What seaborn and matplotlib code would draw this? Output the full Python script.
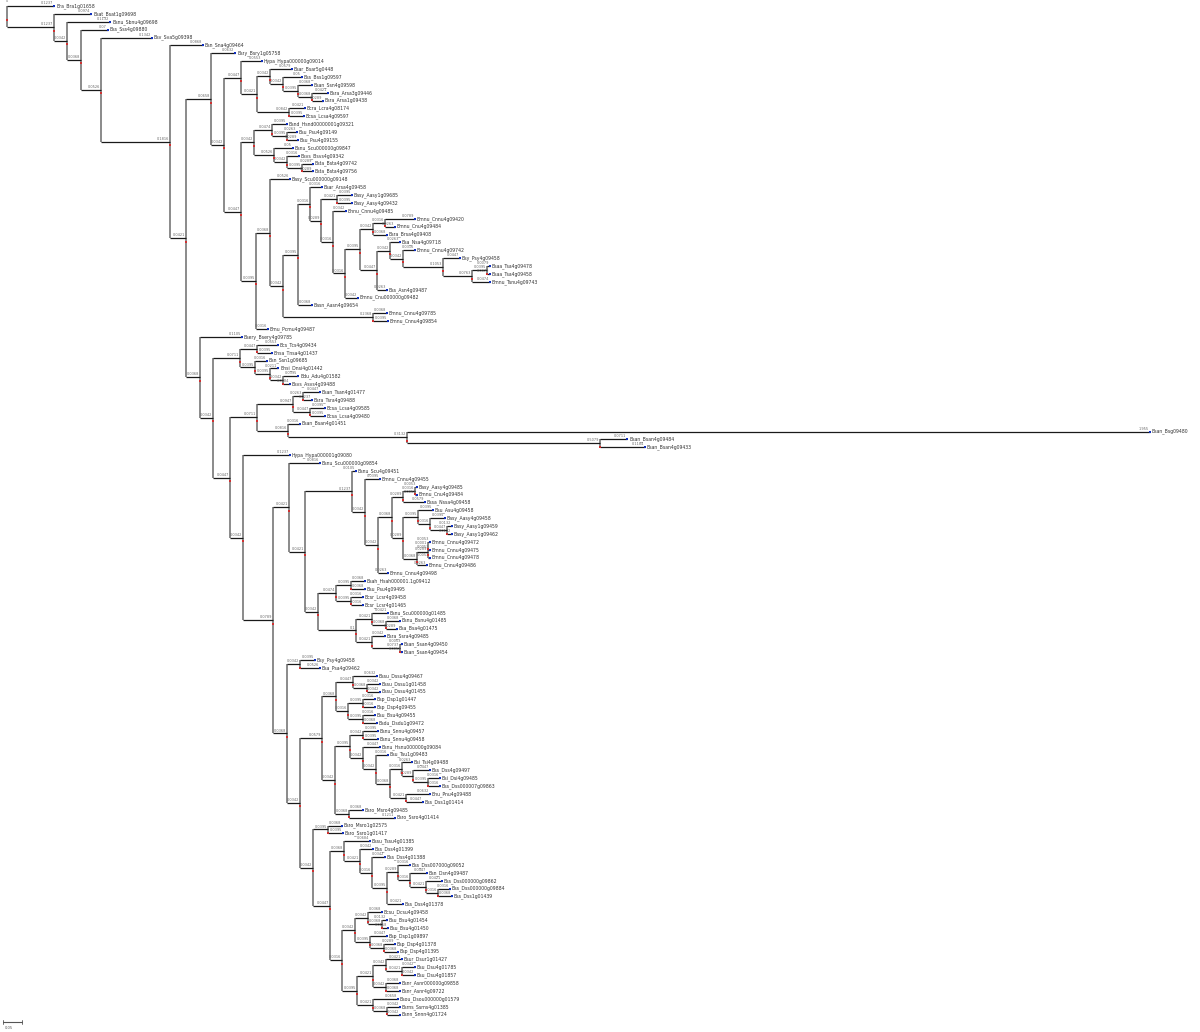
import re
import numpy as np
import pandas as pd
import matplotlib
matplotlib.use("Agg")
import matplotlib.pyplot as plt
from matplotlib.collections import LineCollection
import seaborn as sns

# === Leaf labels (top to bottom) ===
leaf_names = [
    "Bra_Bra1g01658", "Bsat_Bsat1g09698", "Bsnu_Sbnu4g09698", "Bss_Sss4g09880", "Bsv_Sva5g09398",
    "Bsn_Sna4g09464", "Bsry_Bsry1g05758", "Hypa_Hypa000000g09014", "Bsar_Bsar5g0448", "Bss_Bss1g09597",
    "Bsan_Ssn4g09598", "Bsra_Arsa3g09446", "Bsra_Arsa1g09438", "Bcra_Lcra4g08174", "Bcsa_Lcsa4g09597",
    "Bsnd_Hsnd00000001g09321", "Bsu_Psu4g09149", "Bsu_Psu4g09155", "Bsnu_Scu000000g09847", "Bsvs_Bsvs4g09342",
    "Bsta_Bsta4g09742", "Bsta_Bsta4g09756", "Basy_Scu000000g09148", "Bsar_Arsa4g09458", "Basy_Aasy1g09685",
    "Basy_Aasy4g09432", "Bnnu_Cnnu4g09485", "Bmnu_Cnnu4g09420", "Bmnu_Cnu4g09484", "Bsra_Brsa4g09408",
    "Bsa_Nsa4g09718", "Bmnu_Cnnu4g09742", "Bsy_Psy4g09458", "Bsaa_Tsa4g09478", "Bsaa_Tsa4g09458",
    "Bmnu_Tsnu4g09743", "Bss_Asn4g09487", "Bmnu_Cnu000000g09482", "Basn_Aasn4g09654", "Bmnu_Cnnu4g09785",
    "Bmnu_Cnnu4g09854", "Bmu_Pcmu4g09487", "Bsery_Bsery4g09785", "Bcs_Tcs4g09434", "Bnsa_Tnsa4g01437",
    "Bsn_Ssn1g09685", "Bnsi_Dnsi4g01442", "Bdu_Adu4g01582", "Bsvs_Asvs4g09488", "Bsan_Tsan4g01477",
    "Bsra_Tsra4g09488", "Bcsa_Lcsa4g09585", "Bcsa_Lcsa4g09480", "Bsan_Bsan4g01451", "Bsan_Bsg09480",
    "Bsan_Bsan4g09484", "Bsan_Bsan4g09433", "Hypa_Hypa000001g09080", "Bsnu_Scu000000g09854", "Bsnu_Scu4g09451",
    "Bmnu_Cnnu4g09455", "Basy_Aasy4g09485", "Bmnu_Cnu4g09484", "Bssa_Nssa4g09458", "Bsu_Asu4g09458",
    "Basy_Aasy4g09458", "Basy_Aasy1g09459", "Basy_Aasy1g09462", "Bmnu_Cnnu4g09472", "Bmnu_Cnnu4g09475",
    "Bmnu_Cnnu4g09478", "Bmnu_Cnnu4g09486", "Bmnu_Cnnu4g09498", "Bsah_Hsah000001.1g09412", "Bsu_Psu4g09495",
    "Bcsr_Lcsr4g09458", "Bcsr_Lcsr4g01465", "Bsnu_Scu000000g01485", "Bsnu_Bsnu4g01485", "Bsa_Bsa4g01475",
    "Bsra_Ssra4g09485", "Bsan_Ssan4g09450", "Bsan_Ssan4g09454", "Bsy_Psy4g09458", "Bsa_Psa4g09462",
    "Bssu_Dssu4g09467", "Bssu_Dssu1g01458", "Bssu_Dssu4g01455", "Bsp_Dsp1g01447", "Bsp_Dsp4g09455",
    "Bsu_Bsu4g09455", "Bsdu_Dsdu1g09472", "Bsnu_Snnu4g09457", "Bsnu_Snnu4g09458", "Bsnu_Hsnu000000g09084",
    "Bsu_Tsu1g09483", "Bsi_Tsi4g09488", "Bss_Dss4g09497", "Bsi_Dsi4g09485", "Bss_Dss000007g09863",
    "Bnu_Pnu4g09488", "Bss_Dss1g01414", "Bsro_Msro4g09485", "Bsro_Ssro4g01414", "Bsro_Msro1g02575",
    "Bsro_Ssro1g01417", "Bssu_Tssu4g01385", "Bss_Dss4g01399", "Bss_Dss4g01388", "Bss_Dss007000g09052",
    "Bsn_Dsn4g09487", "Bss_Dss000000g09862", "Bss_Dss000000g09884", "Bss_Dss1g01439", "Bss_Dss4g01378",
    "Bcsu_Dcsu4g09458", "Bsu_Bsu4g01454", "Bsu_Bsu4g01450", "Bsp_Dsp1g09897", "Bsp_Dsp4g01378",
    "Bsp_Dsp4g01395", "Bsur_Dsur1g01427", "Bsu_Dsu4g01785", "Bsu_Dsu4g01857", "Bsnr_Asnr000000g09858",
    "Bsnr_Asnr4g09722", "Bsou_Dsou000000g01579", "Bsrns_Ssrns4g01385", "Bsnn_Snnn4g01724",
]

# === Subtrees (Newick, leaves given as 1-based index into leaf_names) ===
clade_a = "(8:0.0553,((9:0.0579,(10:0.05,(11:0.0368,(12:0.0421,13:0.0289):0.0368):0.0395):0.0342):0.0342,(14:0.0421,15:0.0395):0.0842):0.0421)"
clade_b = "((16:0.0395,(17:0.0263,18:0.0289):0.0395):0.0474,(19:0.05,(20:0.0316,(21:0.0289,22:0.0289):0.0395):0.0342):0.0526)"
clade_c1 = "((31:0.0263,(32:0.0316,(33:0.0447,((34:0.0079,35:0.0079):0.0395,36:0.0474):0.0763):0.1053):0.0342):0.0342,37:0.0263)"
clade_c = ("(24:0.0316,((25:0.0395,26:0.0395):0.0421,(27:0.0342,((((28:0.0789,29:0.0263):0.0316,30:0.0368):0.0342,"
           + clade_c1 + ":0.0447):0.0395,38:0.0342):0.0316):0.0316):0.0289)")
clade_d = "((23:0.0526,((" + clade_c + ":0.0316,39:0.0368):0.0395,(40:0.0368,41:0.0395):0.2368):0.0342):0.0368,42:0.0316)"
clade_top = "(7:0.0632,(" + clade_a + ":0.0447,(" + clade_b + ":0.0342," + clade_d + ":0.0395):0.0447):0.0342)"

clade_e = "((44:0.0553,45:0.0395):0.0447,(46:0.0316,(47:0.0211,(48:0.0395,49:0.0184):0.0342):0.0395):0.0395)"
clade_f = "(((50:0.0447,51:0.0237):0.0263,(52:0.0395,53:0.0395):0.0447):0.0947,(54:0.0316,(55:1.955,(56:0.0711,57:0.1184):0.5079):0.3132):0.0816)"

clade_g1 = ("(((62:0.0053,63:0.0053):0.0316,64:0.0579):0.0289,((65:0.0395,(66:0.0395,(67:0.0132,68:0.0132):0.0447):0.0316):0.0395,"
            "(((69:0.0053,70:0.0053):0.0001,71:0.0053):0.0289,72:0.0263):0.0368):0.0289)")
clade_g_up = "(60:0.0105,(61:0.0395,(" + clade_g1 + ":0.0368,73:0.0263):0.0342):0.0342)"
clade_g_low = ("(((74:0.0368,75:0.0368):0.0395,(76:0.0316,77:0.0316):0.0395):0.0474,"
               "((78:0.0421,(79:0.0368,80:0.0289):0.0368):0.0421,(81:0.0342,(82:0.0053,83:0.0053):0.0737):0.0421):0.1)")
clade_g = "(59:0.0816,(" + clade_g_up + ":0.1237," + clade_g_low + ":0.0342):0.0421)"

clade_h1 = "((86:0.0632,(87:0.0342,88:0.0342):0.0368):0.0447,((89:0.0316,90:0.0316):0.0395,(91:0.0316,92:0.0368):0.0395):0.0316)"
clade_h2 = "((97:0.0263,(98:0.0447,(99:0.0316,100:0.0316):0.0395):0.0289):0.0316,(101:0.0632,102:0.0447):0.0421)"
clade_h3 = "((93:0.0395,94:0.0395):0.0342,(95:0.0447,(96:0.0316," + clade_h2 + ":0.0368):0.0342):0.0342)"
clade_h = "(" + clade_h1 + ":0.0368,(" + clade_h3 + ":0.0395,(103:0.0368,104:0.1211):0.0368):0.0342)"

clade_i1 = "((110:0.0316,(111:0.0447,(112:0.0421,(113:0.0316,114:0.0368):0.0316):0.0421):0.0316):0.0289,115:0.0421)"
clade_i2 = "(107:0.0684,(108:0.0342,(109:0.0342," + clade_i1 + ":0.0395):0.0316):0.0421)"
clade_i3 = "((116:0.0368,(117:0.0132,118:0.0158):0.0368):0.0342,(119:0.0447,(120:0.0289,121:0.0368):0.0368):0.0395)"
clade_i4 = ("(((122:0.0421,(123:0.0342,124:0.0342):0.0421):0.0342,(125:0.0368,126:0.0368):0.0342):0.0421,"
            "(127:0.0658,(128:0.0342,129:0.0342):0.0368):0.0421)")
clade_i = "((105:0.0368,106:0.0395):0.0395,(" + clade_i2 + ":0.0368,(" + clade_i3 + ":0.0342," + clade_i4 + ":0.0395):0.0316):0.0447)"

# backbone
spine = "((84:0.0395,85:0.0526):0.0342,(" + clade_h + ":0.0579," + clade_i + ":0.0342):0.0342)"
spine = "(" + clade_g + ":0.0421," + spine + ":0.0368)"
spine = "(58:0.1237," + spine + ":0.0789)"
spine = "(" + clade_f + ":0.0711," + spine + ":0.0342)"
spine = "(" + clade_e + ":0.0711," + spine + ":0.0447)"
spine = "(43:0.1105," + spine + ":0.0342)"
spine = "(" + clade_top + ":0.0658," + spine + ":0.0368)"
tree_newick = ("(1:0.1237,(2:0.0974,(3:0.1132,(4:0.07,(5:0.1342,(6:0.0868," + spine
               + ":0.0421):0.1816):0.0526):0.0368):0.0342):0.1237)")

scale_bar_len = 0.05


# === Parse & lay out the tree ===
def parse_newick(s):
    s = s.replace(" ", "")
    pos = 0

    def node():
        nonlocal pos
        n = {"kids": [], "name": None, "len": 0.0}
        if s[pos] == "(":
            pos += 1
            n["kids"].append(node())
            while s[pos] == ",":
                pos += 1
                n["kids"].append(node())
            pos += 1
        m = re.match(r"[^:,()]*", s[pos:])
        if m.group(0):
            n["name"] = m.group(0)
        pos += len(m.group(0))
        if pos < len(s) and s[pos] == ":":
            m = re.match(r":([0-9.eE-]+)", s[pos:])
            n["len"] = float(m.group(1))
            pos += len(m.group(0))
        return n

    return node()


root = parse_newick(tree_newick)
counter = [0]
nodes = []


def layout(n, x0):
    n["x"] = x0 + n["len"]
    nodes.append(n)
    if not n["kids"]:
        n["y"] = counter[0]
        counter[0] += 1
    else:
        for k in n["kids"]:
            layout(k, n["x"])
        n["y"] = (n["kids"][0]["y"] + n["kids"][-1]["y"]) / 2


layout(root, 0.0)

# === Figure geometry (pixel-matched) ===
W, H = 1200, 1032
PX_PER_UNIT = 380.0
ROW = 7.88
X0, Y0 = 7, 6

sns.set_theme(style="white")
plt.rcParams["font.family"] = ["DejaVu Sans"]
fig = plt.figure(figsize=(W / 100, H / 100), dpi=100)
ax = fig.add_axes([0, 0, 1, 1])
ax.set_xlim(-X0 / PX_PER_UNIT, (W - X0) / PX_PER_UNIT)
ax.set_ylim((H - Y0) / ROW, -Y0 / ROW)
ax.axis("off")

vert, horiz = [], []
for n in nodes:
    if n["kids"]:
        vert.append([(n["x"], n["kids"][0]["y"]), (n["x"], n["kids"][-1]["y"])])
        for k in n["kids"]:
            horiz.append([(n["x"], k["y"]), (k["x"], k["y"])])

ax.add_collection(LineCollection(vert, colors="#8a8a8a", linewidths=1.4, capstyle="butt"))
ax.add_collection(LineCollection(horiz, colors="#1a1a1a", linewidths=0.9, capstyle="butt"))

# branch length labels
for n in nodes:
    if n is root:
        continue
    ax.text(n["x"] - 1 / PX_PER_UNIT, n["y"] - 0.12, f"{n['len']:.4g}", fontsize=2.5,
            color="#666666", ha="right", va="bottom")

tips = pd.DataFrame([{"x": n["x"], "y": n["y"], "name": leaf_names[int(n["name"]) - 1]}
                     for n in nodes if not n["kids"]])
inner = pd.DataFrame([{"x": n["x"], "y": n["y"] + 0.45} for n in nodes if n["kids"]])

sns.scatterplot(data=tips, x="x", y="y", marker="s", s=2.5, color="#1030c0",
                linewidth=0, ax=ax, zorder=3)
sns.scatterplot(data=inner, x="x", y="y", marker="s", s=1.5, color="#d03030",
                linewidth=0, ax=ax, zorder=3)

for _, r in tips.iterrows():
    ax.text(r["x"] + 2 / PX_PER_UNIT, r["y"], r["name"], fontsize=3.3, color="#333333",
            ha="left", va="center")

# root marker
ax.text(0, -0.4, "0", fontsize=2.5, color="#666666", ha="center", va="bottom")

# scale bar
yb = (1022 - Y0) / ROW
xb0 = -4 / PX_PER_UNIT
ax.plot([xb0, xb0 + scale_bar_len], [yb, yb], color="#555555", lw=0.8)
for xe in (xb0, xb0 + scale_bar_len):
    ax.plot([xe, xe], [yb - 0.25, yb + 0.25], color="#555555", lw=0.6)
ax.text(xb0 + 2 / PX_PER_UNIT, yb + 0.5, f"{scale_bar_len}", fontsize=2.6, color="#555555",
        ha="left", va="top")

fig.savefig("out.png", dpi=100)
plt.close(fig)
